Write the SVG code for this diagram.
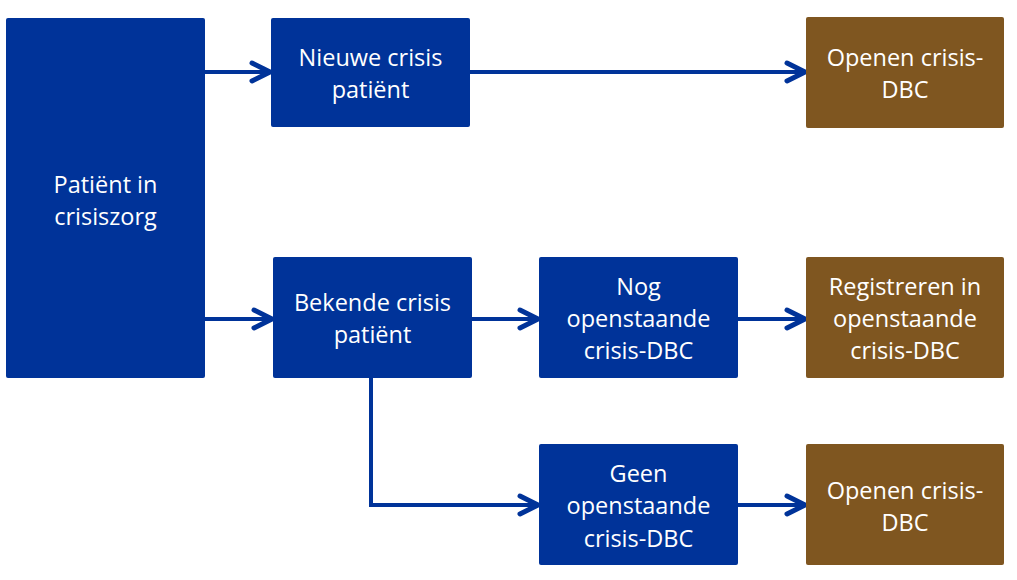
<svg xmlns="http://www.w3.org/2000/svg" width="1017" height="580" viewBox="0 0 1017 580">
<defs>
<style>
.b{fill:#003399;}
.o{fill:#7F5620;}
.t{fill:#ffffff;font-family:"Open Sans","Liberation Sans",sans-serif;font-size:23.5px;text-anchor:middle;}
.c{fill:none;stroke:#003399;stroke-width:4;}
</style>
<marker id="ah" viewBox="0 0 24 24" markerWidth="24" markerHeight="24" refX="21" refY="12" orient="auto" markerUnits="userSpaceOnUse">
<path d="M3,3 L21,12 L3,21" fill="none" stroke="#003399" stroke-width="5" stroke-linecap="round" stroke-linejoin="round"/>
</marker>
</defs>
<rect width="1017" height="580" fill="#ffffff"/>
<g id="connectors">
<line class="c" x1="205" y1="72" x2="270" y2="72" marker-end="url(#ah)"/>
<line class="c" x1="470" y1="72" x2="805" y2="72" marker-end="url(#ah)"/>
<line class="c" x1="205" y1="319" x2="272" y2="319" marker-end="url(#ah)"/>
<line class="c" x1="472" y1="319" x2="538" y2="319" marker-end="url(#ah)"/>
<line class="c" x1="738" y1="319" x2="805" y2="319" marker-end="url(#ah)"/>
<polyline class="c" points="371,378 371,505 538,505" marker-end="url(#ah)"/>
<line class="c" x1="738" y1="505" x2="805" y2="505" marker-end="url(#ah)"/>
</g>
<g id="patient">
<rect class="b" x="6" y="18" width="199" height="360" rx="2"/>
<text class="t" x="105.5" y="193">Patiënt in</text>
<text class="t" x="105.5" y="225">crisiszorg</text>
</g>
<g id="nieuwe">
<rect class="b" x="271" y="18" width="199" height="109" rx="2"/>
<text class="t" x="370.5" y="66">Nieuwe crisis</text>
<text class="t" x="370.5" y="98">patiënt</text>
</g>
<g id="openen1">
<rect class="o" x="806" y="17" width="198" height="111" rx="2"/>
<text class="t" x="905" y="66">Openen crisis-</text>
<text class="t" x="905" y="98">DBC</text>
</g>
<g id="bekende">
<rect class="b" x="273" y="257" width="199" height="121" rx="2"/>
<text class="t" x="372.5" y="311">Bekende crisis</text>
<text class="t" x="372.5" y="343">patiënt</text>
</g>
<g id="nog">
<rect class="b" x="539" y="257" width="199" height="121" rx="2"/>
<text class="t" x="638.5" y="295">Nog</text>
<text class="t" x="638.5" y="327">openstaande</text>
<text class="t" x="638.5" y="359">crisis-DBC</text>
</g>
<g id="registreren">
<rect class="o" x="806" y="257" width="198" height="121" rx="2"/>
<text class="t" x="905" y="295">Registreren in</text>
<text class="t" x="905" y="327">openstaande</text>
<text class="t" x="905" y="359">crisis-DBC</text>
</g>
<g id="geen">
<rect class="b" x="539" y="444" width="199" height="121" rx="2"/>
<text class="t" x="638.5" y="482">Geen</text>
<text class="t" x="638.5" y="514">openstaande</text>
<text class="t" x="638.5" y="547">crisis-DBC</text>
</g>
<g id="openen2">
<rect class="o" x="806" y="444" width="198" height="121" rx="2"/>
<text class="t" x="905" y="499">Openen crisis-</text>
<text class="t" x="905" y="531">DBC</text>
</g>
</svg>
